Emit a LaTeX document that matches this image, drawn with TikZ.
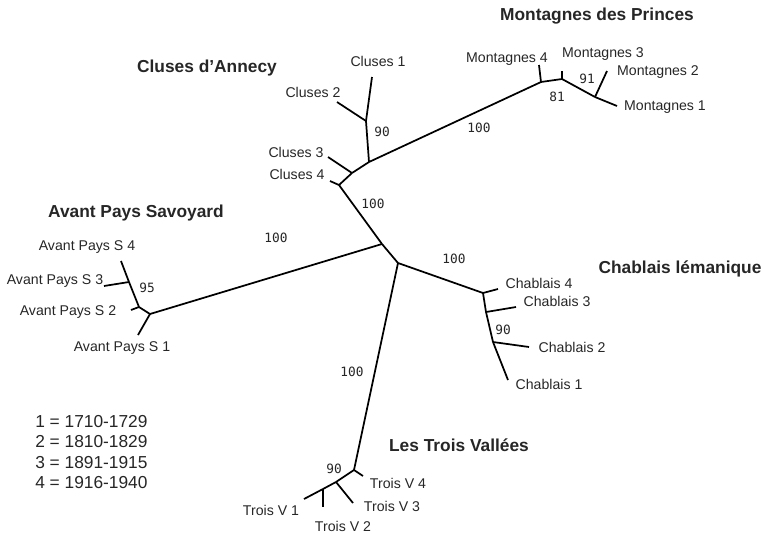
\documentclass[tikz,border=0pt]{standalone}
\usepackage{fontspec}
\setmainfont{Liberation Sans}
\newfontfamily\bootfont{DejaVu Sans Mono}
\begin{document}
\begin{tikzpicture}[
        x=0.75pt, y=-0.75pt,
        edge/.style={line width=1.3pt, black},
        leaf/.style={text=black!85, font=\fontsize{10.6}{12}\selectfont, inner sep=0pt},
        boot/.style={text=black!85, font=\bootfont\fontsize{9.6}{11}\selectfont, inner sep=0pt},
        group/.style={text=black!85, font=\bfseries\fontsize{13}{15}\selectfont, inner sep=0pt}
    ]
    \useasboundingbox (0,0) rectangle (761,533);
    % Nodes
    \coordinate (a) at (382,244);
    \coordinate (b) at (398,263);
    % Cluses
    \coordinate (c4) at (339,185);
    \coordinate (c3) at (352,173);
    \coordinate (c12) at (369,162);
    \coordinate (c2) at (366,121);
    \coordinate (tc4) at (330,181);
    \coordinate (tc3) at (328,157);
    \coordinate (tc2) at (337,102);
    \coordinate (tc1) at (372,77);
    % Montagnes
    \coordinate (m4) at (541,82);
    \coordinate (m3) at (562,79);
    \coordinate (m12) at (595,97);
    \coordinate (tm4) at (539,65);
    \coordinate (tm3) at (562,71);
    \coordinate (tm2) at (607,71);
    \coordinate (tm1) at (617,106);
    % Avant Pays
    \coordinate (p1) at (150,314);
    \coordinate (p2) at (139,307);
    \coordinate (p3) at (129,282);
    \coordinate (tp1) at (138,335);
    \coordinate (tp2) at (131,310);
    \coordinate (tp3) at (104,286);
    \coordinate (tp4) at (121,261);
    % Chablais
    \coordinate (h4) at (483,293);
    \coordinate (h3) at (486,312);
    \coordinate (h2) at (493,342);
    \coordinate (th4) at (498,289);
    \coordinate (th3) at (516,307);
    \coordinate (th2) at (529,347);
    \coordinate (th1) at (508,380);
    % Trois
    \coordinate (t4) at (354,470);
    \coordinate (t3) at (336,482);
    \coordinate (t2) at (323,489);
    \coordinate (tt4) at (363,476);
    \coordinate (tt3) at (353,503);
    \coordinate (tt2) at (323,507);
    \coordinate (tt1) at (304,499);
    % Labels
    \node[group] (gm) at (597,16) {Montagnes des Princes};
    \node[group] (gc) at (207,68) {Cluses d’Annecy};
    \node[group] (gp) at (136,213) {Avant Pays Savoyard};
    \node[group] (gh) at (680,269) {Chablais lémanique};
    \node[group] (gt) at (459,445) {Les Trois Vallées};
    \node[leaf] (lm4) at (507,59) {Montagnes 4};
    \node[leaf] (lm3) at (603,54) {Montagnes 3};
    \node[leaf] (lm2) at (658,72) {Montagnes 2};
    \node[leaf] (lm1) at (665,107) {Montagnes 1};
    \node[leaf] (lc1) at (378,61) {Cluses 1};
    \node[leaf] (lc2) at (313,92) {Cluses 2};
    \node[leaf] (lc3) at (296,152) {Cluses 3};
    \node[leaf] (lc4) at (297,174) {Cluses 4};
    \node[leaf] (lp4) at (87,247) {Avant Pays S 4};
    \node[leaf] (lp3) at (55,281) {Avant Pays S 3};
    \node[leaf] (lp2) at (68,312) {Avant Pays S 2};
    \node[leaf] (lp1) at (122,348) {Avant Pays S 1};
    \node[leaf] (lh4) at (539,283) {Chablais 4};
    \node[leaf] (lh3) at (557,301) {Chablais 3};
    \node[leaf] (lh2) at (572,347) {Chablais 2};
    \node[leaf] (lh1) at (549,384) {Chablais 1};
    \node[leaf] (lt4) at (398,483) {Trois V 4};
    \node[leaf] (lt3) at (392,506) {Trois V 3};
    \node[leaf] (lt2) at (343,526) {Trois V 2};
    \node[leaf] (lt1) at (271,510) {Trois V 1};
    % Bootstrap values
    \node[boot] (bm) at (479,128) {100};
    \node[boot] (b81) at (557,97) {81};
    \node[boot] (b91) at (587,79) {91};
    \node[boot] (bc) at (373,204) {100};
    \node[boot] (b90c) at (382,132) {90};
    \node[boot] (bp) at (276,238) {100};
    \node[boot] (b95) at (147,288) {95};
    \node[boot] (bh) at (454,259) {100};
    \node[boot] (b90h) at (503,330) {90};
    \node[boot] (bt) at (352,372) {100};
    \node[boot] (b90t) at (334,469) {90};
    % Legend
    \node[leaf, anchor=west, align=left, font=\fontsize{13}{15.4}\selectfont] (key) at (35,452)
        {1 = 1710-1729\\2 = 1810-1829\\3 = 1891-1915\\4 = 1916-1940};
    % Edges
    \draw[edge] (a) -- (b);
    \draw[edge] (a) -- (c4);
    \draw[edge] (c4) -- (tc4);
    \draw[edge] (c4) -- (c3);
    \draw[edge] (c3) -- (tc3);
    \draw[edge] (c3) -- (c12);
    \draw[edge] (c12) -- (c2);
    \draw[edge] (c2) -- (tc2);
    \draw[edge] (c2) -- (tc1);
    \draw[edge] (c12) -- (m4);
    \draw[edge] (m4) -- (tm4);
    \draw[edge] (m4) -- (m3);
    \draw[edge] (m3) -- (tm3);
    \draw[edge] (m3) -- (m12);
    \draw[edge] (m12) -- (tm2);
    \draw[edge] (m12) -- (tm1);
    \draw[edge] (a) -- (p1);
    \draw[edge] (p1) -- (tp1);
    \draw[edge] (p1) -- (p2);
    \draw[edge] (p2) -- (tp2);
    \draw[edge] (p2) -- (p3);
    \draw[edge] (p3) -- (tp3);
    \draw[edge] (p3) -- (tp4);
    \draw[edge] (b) -- (h4);
    \draw[edge] (h4) -- (th4);
    \draw[edge] (h4) -- (h3);
    \draw[edge] (h3) -- (th3);
    \draw[edge] (h3) -- (h2);
    \draw[edge] (h2) -- (th2);
    \draw[edge] (h2) -- (th1);
    \draw[edge] (b) -- (t4);
    \draw[edge] (t4) -- (tt4);
    \draw[edge] (t4) -- (t3);
    \draw[edge] (t3) -- (tt3);
    \draw[edge] (t3) -- (t2);
    \draw[edge] (t2) -- (tt2);
    \draw[edge] (t2) -- (tt1);
\end{tikzpicture}
\end{document}
